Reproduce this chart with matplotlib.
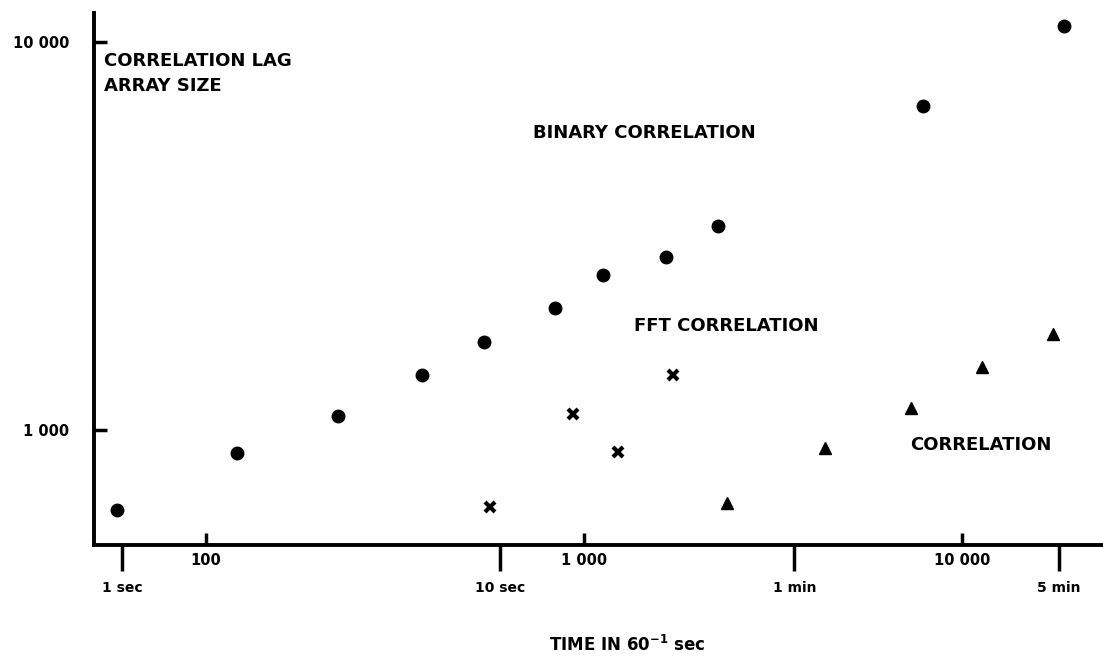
import matplotlib
matplotlib.use("Agg")
import matplotlib.pyplot as plt
from matplotlib.ticker import NullLocator

# binary correlation (circles)
binary_t = [58, 121, 223, 373, 544, 838, 1123, 1648, 2262, 7885, 18620]
binary_n = [622, 873, 1087, 1386, 1686, 2063, 2508, 2792, 3355, 6839, 11000]

# fft correlation (crosses)
fft_t = [564, 935, 1230, 1720]
fft_n = [633, 1100, 878, 1386]

# plain correlation (triangles)
corr_t = [2390, 4340, 7330, 11300, 17400]
corr_n = [649, 899, 1139, 1453, 1768]

count_ticks = [100, 1000, 10000]
count_labels = ["100", "1 000", "10 000"]
time_ticks = [60, 600, 3600, 18000]
time_labels = ["1 sec", "10 sec", "1 min", "5 min"]
y_ticks = [1000, 10000]
y_labels = ["1 000", "10 000"]

plt.rcParams['font.family'] = ['DejaVu Sans']
plt.rcParams['font.weight'] = 'bold'

fig = plt.figure(figsize=(11.03, 6.57), dpi=100)
ax = fig.add_axes([94 / 1103, 112 / 657, 1009 / 1103, 532 / 657])

ax.plot(binary_t, binary_n, 'o', color='black', markersize=9, clip_on=False)
ax.plot(fft_t, fft_n, 'x', color='black', markersize=6.5, mew=3, clip_on=False)
ax.plot(corr_t, corr_n, '^', color='black', markersize=8, clip_on=False)

ax.set_xscale('log')
ax.set_yscale('log')
ax.set_xlim(50.5, 23600)
ax.set_ylim(505, 11875)

ax.xaxis.set_minor_locator(NullLocator())
ax.yaxis.set_minor_locator(NullLocator())
ax.set_xticks(count_ticks, count_labels)
ax.set_xticks(time_ticks, time_labels, minor=True)
ax.set_yticks(y_ticks, y_labels)
ax.yaxis.set_minor_locator(NullLocator())

ax.tick_params(axis='x', which='major', direction='in', length=9, width=2.5,
               pad=6, labelsize=10.5)
ax.tick_params(axis='x', which='minor', direction='out', length=19, width=2.5,
               pad=7, labelsize=10)
ax.tick_params(axis='y', which='major', direction='in', length=9, width=2.5,
               pad=18, labelsize=10.5)

for side in ['top', 'right']:
    ax.spines[side].set_visible(False)
for side in ['left', 'bottom']:
    ax.spines[side].set_linewidth(2.8)

tx = dict(transform=ax.transAxes, fontsize=13, fontweight='bold', va='center')
ax.text(0.010, 0.910, "CORRELATION LAG", **tx)
ax.text(0.010, 0.863, "ARRAY SIZE", **tx)
ax.text(0.435, 0.774, "BINARY CORRELATION", **tx)
ax.text(0.535, 0.412, "FFT CORRELATION", **tx)
ax.text(0.809, 0.188, "CORRELATION", **tx)

fig.text(627 / 1103, 1 - 645 / 657, "TIME IN 60$^{\\mathbf{-1}}$ sec",
         ha='center', va='center', fontsize=12, fontweight='bold')

fig.savefig("out.png", dpi=100)
